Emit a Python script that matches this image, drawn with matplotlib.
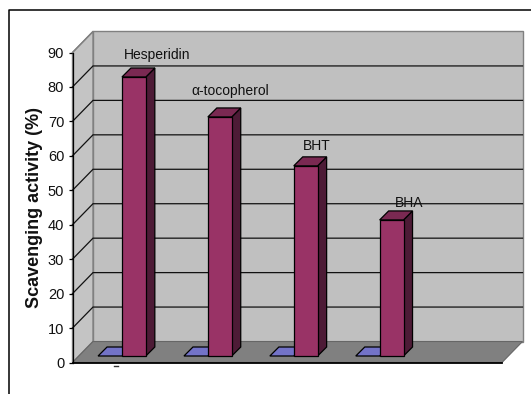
import matplotlib
matplotlib.use('agg')
import matplotlib.pyplot as plt
from matplotlib.patches import Polygon
from matplotlib.transforms import Affine2D

W, H = 531, 394

categories = ['Hesperidin', u'\u03b1-tocopherol', 'BHT', 'BHA', '']
activity = [81, 69.4, 55.2, 39.5]
baseline = [0, 0, 0, 0]
y_ticks = [0, 10, 20, 30, 40, 50, 60, 70, 80, 90]

FONT = 'Liberation Sans'
BAR_W = 0.278


def shift(ax, dx, dy):
	return ax.transData + Affine2D().translate(dx, dy)


def draw_box(ax, x0, x1, top, front, side, roof):
	# bars stand 6.5 px behind the front edge and are 9 px deep
	t0 = shift(ax, 6.5, 6.5)
	t1 = shift(ax, 15.5, 15.5)
	inv = ax.transData.inverted()
	def back(x, y):
		return inv.transform(t1.transform((x, y)))
	def near(x, y):
		return inv.transform(t0.transform((x, y)))
	ax.add_patch(Polygon([near(x1, 0), back(x1, 0), back(x1, top), near(x1, top)],
		fc=side, ec='black', lw=0.9, zorder=4, clip_on=False))
	ax.add_patch(Polygon([near(x0, top), near(x1, top), back(x1, top), back(x0, top)],
		fc=roof, ec='black', lw=0.9, zorder=4, clip_on=False))
	if top > 0:
		ax.add_patch(Polygon([near(x0, 0), near(x1, 0), near(x1, top), near(x0, top)],
			fc=front, ec='black', lw=0.9, zorder=5, clip_on=False))


def main():
	fig = plt.figure(figsize=(W / 100.0, H / 100.0), dpi=100)
	ax = fig.add_axes([72.5 / W, (H - 362.5) / H, 429.5 / W, 310.0 / H])
	ax.set_xlim(-0.5, 4.5)
	ax.set_ylim(0, 90)
	ax.patch.set_visible(False)
	for s in ['top', 'right']:
		ax.spines[s].set_visible(False)
	ax.spines['left'].set_linewidth(0.9)
	ax.spines['bottom'].set_linewidth(1.3)
	ax.spines['left'].set_zorder(6)
	ax.spines['bottom'].set_zorder(6)

	# chart area frame, open on the right and bottom
	fig.add_artist(plt.Line2D([8.5 / W, 8.5 / W, 1], [0, (H - 9.5) / H, (H - 9.5) / H],
		color='black', lw=1.1))

	inv = ax.transData.inverted()
	wall = shift(ax, 20.5, 21)
	def w(x, y):
		return inv.transform(wall.transform((x, y)))

	# back wall, side wall and floor
	ax.add_patch(Polygon([w(-0.5, 0), w(4.5, 0), w(4.5, 90), w(-0.5, 90)],
		fc='#c0c0c0', ec='#808080', lw=1.0, zorder=1, clip_on=False))
	ax.add_patch(Polygon([(-0.5, 0), w(-0.5, 0), w(-0.5, 90), (-0.5, 90)],
		fc='#c4c4c4', ec='#808080', lw=1.0, zorder=1, clip_on=False))
	ax.add_patch(Polygon([(-0.5, 0), (4.5, 0), w(4.5, 0), w(-0.5, 0)],
		fc='#808080', ec='#666666', lw=0.8, zorder=2, clip_on=False))

	# gridlines run along the side wall and across the back
	for v in y_ticks[1:-1]:
		a, b, c = (-0.5, v), w(-0.5, v), w(4.5, v)
		ax.plot([a[0], b[0], c[0]], [a[1], b[1], c[1]], color='#111111', lw=0.9,
			zorder=3, clip_on=False, solid_joinstyle='miter')
	a, b = (-0.5, 90), w(-0.5, 90)
	ax.plot([a[0], b[0]], [a[1], b[1]], color='#808080', lw=1.0, zorder=3, clip_on=False)

	for i, top in enumerate(activity):
		draw_box(ax, i - BAR_W, i, baseline[i], '#7373c8', '#7373c8', '#7373c8')
		draw_box(ax, i, i + BAR_W, top, '#993366', '#4d1b36', '#7a2952')

	# value names are placed by hand above the bars
	label_dx = [0.49, 0.34, 0.34, 0.42]
	label_dy = [28.5, 32.5, 26.5, 23.5]
	for i, top in enumerate(activity):
		ax.annotate(categories[i], (i + label_dx[i], top), xytext=(0, label_dy[i]),
			textcoords='offset pixels', ha='center', va='center', fontsize=10,
			family=FONT, color='#111111', zorder=7)

	ax.set_yticks(y_ticks)
	ax.set_yticklabels([str(v) for v in y_ticks], family=FONT, fontsize=10.5, color='#111111')
	ax.tick_params(axis='y', length=3, width=0.9, pad=3)
	ax.set_xticks([])

	# stray category mark under the first group
	ax.plot([-0.02, 0.03], [-1.0, -1.0], color='#333333', lw=1.0, clip_on=False)

	fig.text(35 / W, (H - 207) / H, 'Scavenging activity (%)', rotation=90,
		ha='center', va='center', family=FONT, fontweight='bold',
		fontsize=13, color='#111111')

	fig.savefig('out.png', dpi=100)
	plt.close(fig)


if __name__ == "__main__":
	main()
